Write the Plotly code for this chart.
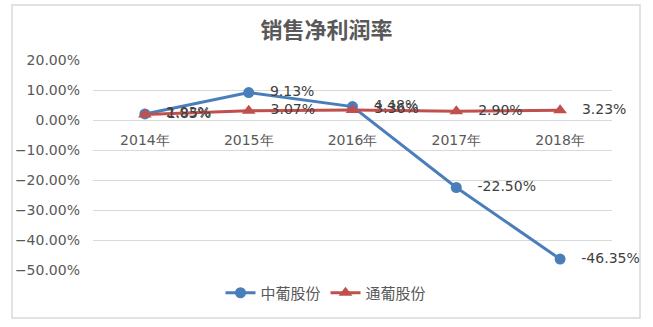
import plotly.graph_objects as go

years = ["2014年", "2015年", "2016年", "2017年", "2018年"]
zhongpu = [2.03, 9.13, 4.48, -22.50, -46.35]
tongpu = [1.85, 3.07, 3.36, 2.90, 3.23]
zhong_name = "中葡股份"
tong_name = "通葡股份"
title_text = "销售净利润率"

blue = "#4A7EBB"
red = "#C0504D"
txt = "#595959"
pad = "\u00a0\u00a0\u00a0"

fig = go.Figure()
fig.add_trace(go.Scatter(
    x=years, y=zhongpu, name=zhong_name, mode="lines+markers+text",
    line=dict(color=blue, width=3), marker=dict(symbol="circle", size=11, color=blue),
    text=[f"{pad}{v:.2f}%" for v in zhongpu], textposition="middle right",
    textfont=dict(family="DejaVu Sans", size=14, color="#404040"), cliponaxis=False,
))
fig.add_trace(go.Scatter(
    x=years, y=tongpu, name=tong_name, mode="lines+markers+text",
    line=dict(color=red, width=3), marker=dict(symbol="triangle-up", size=12, color=red),
    text=[f"{pad}{v:.2f}%" for v in tongpu], textposition="middle right",
    textfont=dict(family="DejaVu Sans", size=14, color="#404040"), cliponaxis=False,
))

L, R, T, B = 93, 41, 60, 57
W, H = 653, 327
pw = W - L - R
ph = H - T - B

fig.update_layout(
    width=W, height=H,
    margin=dict(l=L, r=R, t=T, b=B),
    paper_bgcolor="white", plot_bgcolor="white",
    title=dict(text=f"<b>{title_text}</b>", x=0.5, xanchor="center", y=1 - 30 / H, yanchor="middle",
               font=dict(family="Noto Sans CJK SC", size=22, color=txt)),
    font=dict(family="DejaVu Sans", size=14, color=txt),
    showlegend=True,
    legend=dict(orientation="h", x=(326 - L) / pw, xanchor="center", y=-(293 - (T + ph)) / ph, yanchor="middle",
                font=dict(family="Noto Sans CJK SC", size=15, color=txt), bgcolor="rgba(0,0,0,0)"),
    xaxis=dict(type="category", range=[-0.5, 4.5], showgrid=False, showline=False, zeroline=False,
               ticks="", anchor="free", position=50 / 70, ticklabelstandoff=10,
               tickfont=dict(family="DejaVu Sans", size=14, color=txt)),
    yaxis=dict(range=[-50, 20], dtick=10, tickformat=".2f", ticksuffix="%",
               showgrid=True, gridcolor="#D9D9D9", gridwidth=1,
               zeroline=True, zerolinecolor="#D9D9D9", zerolinewidth=1,
               showline=False, ticks="", ticklabelstandoff=12,
               tickfont=dict(family="DejaVu Sans", size=14, color=txt)),
)

fig.add_shape(type="rect", xref="paper", yref="paper",
              x0=(12 - L) / pw, x1=(640 - L) / pw,
              y0=-(318 - (T + ph)) / ph, y1=(T + ph - 5) / ph,
              line=dict(color="#D9D9D9", width=1.5), fillcolor="rgba(0,0,0,0)", layer="below")

fig.write_html("out.html")
